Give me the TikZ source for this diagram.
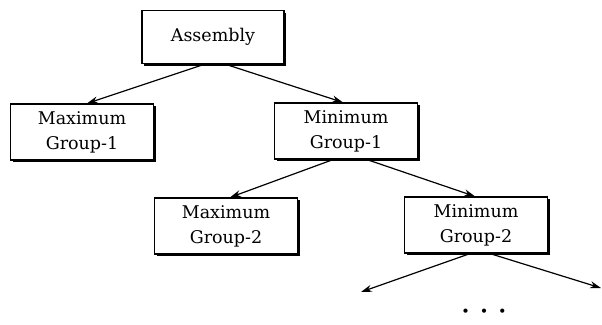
\documentclass[tikz,border=0pt]{standalone}
\usepackage{fontspec}
\setmainfont{DejaVu Serif}
\usetikzlibrary{arrows.meta,shadows}
\tikzstyle{block} = [rectangle, draw, line width=1.2pt, fill=white, minimum height=56pt, minimum width=143pt, inner sep=0pt,
  font=\fontsize{17.5}{25}\selectfont,
  drop shadow={shadow xshift=2pt, shadow yshift=-2pt, fill=black, opacity=1}]
\tikzstyle{arrow} = [line width=1.2pt,-{Stealth[length=11pt,width=7pt]}]

\begin{document}
\begin{tikzpicture}[x = 1pt, y = -1pt]

% ----------------------------------------------------

% page frame (same size as the reference)
\useasboundingbox (0,0) rectangle (602,324);

% ----------------------------------------------------

  \node (assembly) [block, minimum height=53pt, minimum width=142pt] at (213, 37) {Assembly};

  \node (maxone) [block] at (82, 132) {
  \begin{tabular}{c}
    Maximum \\
    Group-1
  \end{tabular}
  };
  \node (minone) [block] at (346, 131) {
  \begin{tabular}{c}
    Minimum \\
    Group-1
  \end{tabular}
  };
  \node (maxtwo) [block] at (226, 226) {
  \begin{tabular}{c}
    Maximum \\
    Group-2
  \end{tabular}
  };
  \node (mintwo) [block] at (476, 225) {
  \begin{tabular}{c}
    Minimum \\
    Group-2
  \end{tabular}
  };

  % loose ends below the last group
  \coordinate (nextleft) at (361, 292);
  \coordinate (nextright) at (601, 288);

  \draw[arrow] ([xshift=-8pt]assembly.south) -- ([xshift=5pt]maxone.north);
  \draw[arrow] ([xshift=12pt]assembly.south) -- ([xshift=-3pt]minone.north);
  \draw[arrow] ([xshift=-13pt]minone.south) -- ([xshift=4pt]maxtwo.north);
  \draw[arrow] ([xshift=21pt]minone.south) -- ([xshift=-1pt]mintwo.north);
  \draw[arrow] ([xshift=-6pt]mintwo.south) -- (nextleft);
  \draw[arrow] ([xshift=14pt]mintwo.south) -- (nextright);

  % more levels follow
  \node (more) at (484, 313) {\Large\textbullet\hspace{10pt}\textbullet\hspace{10pt}\textbullet};

\end{tikzpicture}
\end{document}
